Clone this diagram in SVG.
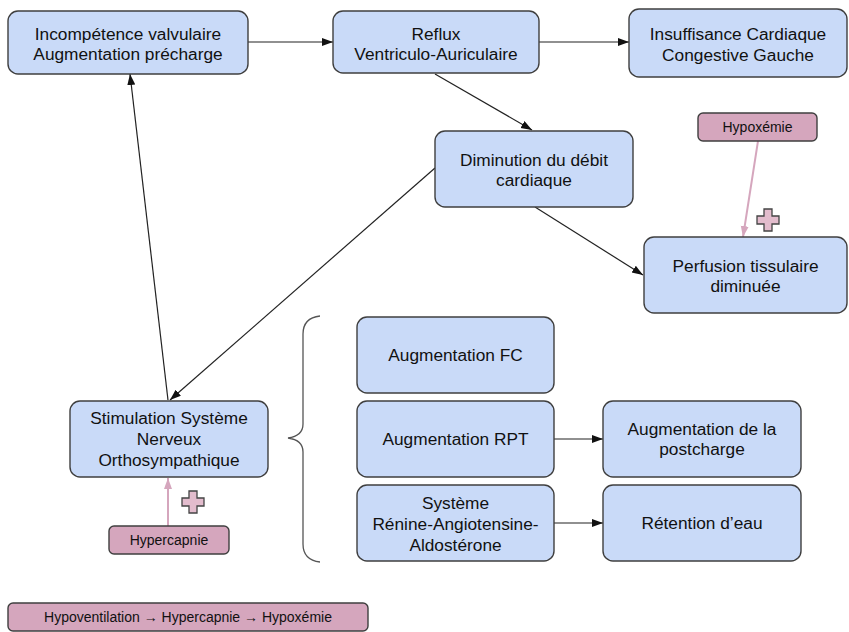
<svg xmlns="http://www.w3.org/2000/svg" width="849" height="632" viewBox="0 0 849 632">
<style>
.b{fill:#c9daf8;stroke:#3f3f3f;stroke-width:1.4}
.p{fill:#d5a6bd;stroke:#3f3f3f;stroke-width:1.4}
.t{font-family:"Liberation Sans",Arial,sans-serif;font-size:17.3px;fill:#111;text-anchor:middle}
.s{font-family:"Liberation Sans",Arial,sans-serif;font-size:14px;fill:#111;text-anchor:middle}
.c{stroke:#222;stroke-width:1.2;fill:none;marker-end:url(#ah)}
.cp{stroke:#d5a6bd;stroke-width:2;fill:none;marker-end:url(#ahp)}
.plus{fill:#e3bccd;stroke:#444;stroke-width:1.3}
</style>
<defs>
<marker id="ah" markerUnits="userSpaceOnUse" markerWidth="12" markerHeight="10" refX="11" refY="4" orient="auto">
<path d="M0,0 L11,4 L0,8 z" fill="#111"/>
</marker>
<marker id="ahp" markerUnits="userSpaceOnUse" markerWidth="12" markerHeight="10" refX="11" refY="4" orient="auto">
<path d="M0,0 L11,4 L0,8 z" fill="#d5a6bd"/>
</marker>
</defs>
<rect width="849" height="632" fill="#fff"/>
<g id="connectors">
<line class="c" x1="248" y1="42" x2="333" y2="42"/>
<line class="c" x1="539" y1="42" x2="629" y2="42"/>
<line class="c" x1="435" y1="74" x2="532" y2="130"/>
<line class="c" x1="535" y1="207" x2="643" y2="275"/>
<line class="c" x1="435" y1="168" x2="170" y2="400"/>
<line class="c" x1="168" y1="400" x2="130" y2="74"/>
<line class="c" x1="554" y1="439" x2="603" y2="439"/>
<line class="c" x1="554" y1="523" x2="603" y2="523"/>
<line class="cp" x1="758" y1="141" x2="743" y2="237"/>
<line class="cp" x1="168" y1="526" x2="168" y2="478"/>
</g>
<g id="plus1"><path class="plus" d="M764,209 h8 v7 h7 v8 h-7 v7 h-8 v-7 h-7 v-8 h7 z"/></g>
<g id="plus2"><path class="plus" d="M189,491 h8 v7 h7 v8 h-7 v7 h-8 v-7 h-7 v-8 h7 z"/></g>
<g id="brace"><path d="M320,316 Q303,318 303,334 L303,424 Q303,436 288,438 Q303,440 303,452 L303,544 Q303,560 320,562" fill="none" stroke="#555" stroke-width="1.3"/></g>
<g id="n1"><rect class="b" x="8" y="11" width="240" height="63" rx="10"/>
<text class="t" x="128" y="40">Incompétence valvulaire</text><text class="t" x="128" y="60">Augmentation précharge</text></g>
<g id="n2"><rect class="b" x="333" y="11" width="206" height="62" rx="10"/>
<text class="t" x="436" y="40">Reflux</text><text class="t" x="436" y="60">Ventriculo-Auriculaire</text></g>
<g id="n3"><rect class="b" x="629" y="9" width="218" height="68" rx="10"/>
<text class="t" x="738" y="40">Insuffisance Cardiaque</text><text class="t" x="738" y="61">Congestive Gauche</text></g>
<g id="n4"><rect class="b" x="435" y="131" width="198" height="76" rx="10"/>
<text class="t" x="534" y="166">Diminution du débit</text><text class="t" x="534" y="186">cardiaque</text></g>
<g id="n5"><rect class="b" x="644" y="237" width="203" height="76" rx="10"/>
<text class="t" x="745.5" y="272">Perfusion tissulaire</text><text class="t" x="745.5" y="292">diminuée</text></g>
<g id="n6"><rect class="p" x="698" y="113" width="119" height="28" rx="5"/>
<text class="s" x="757.5" y="132">Hypoxémie</text></g>
<g id="n7"><rect class="b" x="70" y="401" width="198" height="76" rx="10"/>
<text class="t" x="169" y="424">Stimulation Système</text><text class="t" x="169" y="445">Nerveux</text><text class="t" x="169" y="466">Orthosympathique</text></g>
<g id="n8"><rect class="p" x="109" y="526" width="120" height="28" rx="5"/>
<text class="s" x="169" y="545">Hypercapnie</text></g>
<g id="n9"><rect class="b" x="357" y="317" width="197" height="76" rx="10"/>
<text class="t" x="455.5" y="361">Augmentation FC</text></g>
<g id="n10"><rect class="b" x="357" y="401" width="197" height="76" rx="10"/>
<text class="t" x="455.5" y="445">Augmentation RPT</text></g>
<g id="n11"><rect class="b" x="357" y="485" width="197" height="76" rx="10"/>
<text class="t" x="455.5" y="509">Système</text><text class="t" x="455.5" y="530">Rénine-Angiotensine-</text><text class="t" x="455.5" y="551">Aldostérone</text></g>
<g id="n12"><rect class="b" x="603" y="401" width="198" height="76" rx="10"/>
<text class="t" x="702" y="435">Augmentation de la</text><text class="t" x="702" y="455">postcharge</text></g>
<g id="n13"><rect class="b" x="603" y="485" width="198" height="76" rx="10"/>
<text class="t" x="702" y="529">Rétention d’eau</text></g>
<g id="n14"><rect class="p" x="8" y="603" width="360" height="28" rx="5"/>
<text class="s" x="188" y="622">Hypoventilation → Hypercapnie → Hypoxémie</text></g>
</svg>
